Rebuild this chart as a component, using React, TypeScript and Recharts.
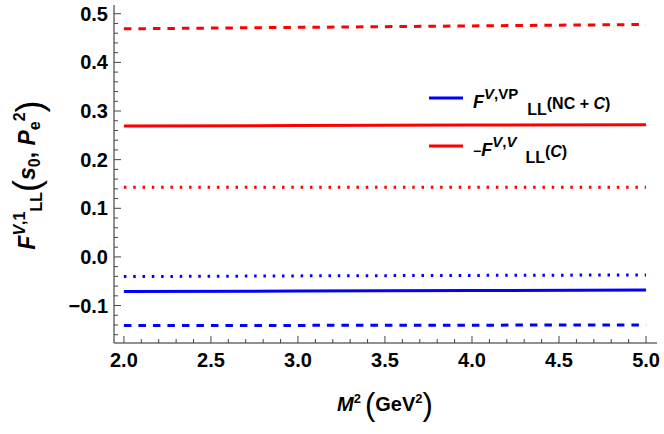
import { LineChart, Line, XAxis, YAxis } from "recharts";

// M^2 (GeV^2) sample points
const M2 = [2, 3, 4, 5];

// red curves (-F^{V,V}_LL(C))
const RED_DASHED = [0.469, 0.472, 0.475, 0.478];
const RED_SOLID = [0.269, 0.27, 0.271, 0.272];
const RED_DOTTED = [0.143, 0.143, 0.143, 0.143];

// blue curves (F^{V,VP}_LL(NC + C))
const BLUE_DOTTED = [-0.0405, -0.039, -0.038, -0.037];
const BLUE_SOLID = [-0.0713, -0.0703, -0.0693, -0.068];
const BLUE_DASHED = [-0.141, -0.1408, -0.1403, -0.14];

const X_MAJOR = [2, 2.5, 3, 3.5, 4, 4.5, 5];
const Y_MAJOR = [-0.1, 0, 0.1, 0.2, 0.3, 0.4, 0.5];

const X_TICKS = Array.from({ length: 31 }, (_, i) => Math.round((2 + i * 0.1) * 10) / 10);
const Y_TICKS = Array.from({ length: 34 }, (_, i) => Math.round((-0.16 + i * 0.02) * 100) / 100);

const RED = "#ff0000";
const BLUE = "#0000ff";
const FONT = "'Liberation Sans', Arial, sans-serif";

const SERIES = [
  { key: "redDashed", values: RED_DASHED, color: RED, dash: "7.5 7" },
  { key: "redSolid", values: RED_SOLID, color: RED, dash: undefined },
  { key: "redDotted", values: RED_DOTTED, color: RED, dash: "2.5 6.8" },
  { key: "blueDotted", values: BLUE_DOTTED, color: BLUE, dash: "2.5 6.8" },
  { key: "blueSolid", values: BLUE_SOLID, color: BLUE, dash: undefined },
  { key: "blueDashed", values: BLUE_DASHED, color: BLUE, dash: "7.5 7" },
];

const data = M2.map((m, i) => {
  const row: Record<string, number> = { m };
  SERIES.forEach((s) => (row[s.key] = s.values[i]));
  return row;
});

const isMajor = (list: number[], v: number) => list.some((m) => Math.abs(m - v) < 1e-6);

function XTick(props: any) {
  const { x, y, payload } = props;
  const major = isMajor(X_MAJOR, payload.value);
  return (
    <g>
      <line x1={x} x2={x} y1={y} y2={y - (major ? 7 : 4)} stroke="#444" />
      {major && (
        <text x={x} y={y + 24} textAnchor="middle" fontSize={20} fontWeight="bold" fontFamily={FONT} fill="#000">
          {payload.value.toFixed(1)}
        </text>
      )}
    </g>
  );
}

function YTick(props: any) {
  const { x, y, payload } = props;
  const major = isMajor(Y_MAJOR, payload.value);
  const label = payload.value.toFixed(1).replace("-", "\u2212");
  return (
    <g>
      <line x1={x} x2={x + (major ? 7 : 4)} y1={y} y2={y} stroke="#444" />
      {major && (
        <text x={x - 6} y={y + 7} textAnchor="end" fontSize={20} fontWeight="bold" fontFamily={FONT} fill="#000">
          {label}
        </text>
      )}
    </g>
  );
}

export default function App() {
  return (
    <div style={{ width: 664, height: 434 }}>
      <style>{"body{margin:0}"}</style>
      <LineChart width={664} height={434} data={data} margin={{ top: 5, right: 7, bottom: 0, left: 0 }}>
        <XAxis
          dataKey="m"
          type="number"
          domain={[1.943, 5.063]}
          ticks={X_TICKS}
          interval={0}
          height={91}
          tickSize={0}
          tickMargin={0}
          tickLine={false}
          axisLine={{ stroke: "#222" }}
          tick={<XTick />}
        />
        <YAxis
          type="number"
          domain={[-0.177, 0.518]}
          ticks={Y_TICKS}
          interval={0}
          width={114}
          tickSize={0}
          tickMargin={0}
          tickLine={false}
          axisLine={{ stroke: "#222" }}
          tick={<YTick />}
        />
        {SERIES.map((s) => (
          <Line
            key={s.key}
            dataKey={s.key}
            type="linear"
            stroke={s.color}
            strokeWidth={3}
            strokeDasharray={s.dash}
            dot={false}
            activeDot={false}
            isAnimationActive={false}
          />
        ))}

        {/* legend */}
        <line x1={429} x2={463} y1={98} y2={98} stroke={BLUE} strokeWidth={3} />
        <text x={473} y={108} fontFamily={FONT} fontWeight="bold" fontSize={16} fill="#000">
          <tspan fontStyle="italic" fontSize={18}>F</tspan>
          <tspan fontSize={15} dy={-9}><tspan fontStyle="italic">V</tspan>,VP</tspan>
          <tspan fontSize={16} dy={16} dx={9}>LL</tspan>
          <tspan fontSize={16} dy={-6}>(NC + <tspan fontStyle="italic">C</tspan>)</tspan>
        </text>
        <line x1={429} x2={463} y1={146} y2={146} stroke={RED} strokeWidth={3} />
        <text x={473} y={156} fontFamily={FONT} fontWeight="bold" fontSize={16} fill="#000">
          <tspan fontSize={14}>{"\u2212"}</tspan>
          <tspan fontStyle="italic" fontSize={18}>F</tspan>
          <tspan fontSize={15} dy={-9}><tspan fontStyle="italic">V</tspan>,<tspan fontStyle="italic">V</tspan></tspan>
          <tspan fontSize={16} dy={16} dx={9}>LL</tspan>
          <tspan fontSize={16} dy={-6}>(<tspan fontStyle="italic">C</tspan>)</tspan>
        </text>

        {/* x axis title */}
        <text x={385} y={411} textAnchor="middle" fontFamily={FONT} fontWeight="bold" fontSize={20} fill="#000">
          <tspan fontStyle="italic">M</tspan>
          <tspan fontSize={13} dy={-8}>2</tspan>
          <tspan fontSize={31} fontWeight="normal" dy={12} dx={4}>(</tspan>
          <tspan dy={-4}>GeV</tspan>
          <tspan fontSize={13} dy={-8}>2</tspan>
          <tspan fontSize={31} fontWeight="normal" dy={12}>)</tspan>
        </text>

        {/* y axis title */}
        <text
          x={35}
          y={175}
          transform="rotate(-90, 35, 175)"
          textAnchor="middle"
          fontFamily={FONT}
          fontWeight="bold"
          fontSize={23}
          fill="#000"
        >
          <tspan fontStyle="italic">F</tspan>
          <tspan fontSize={16} dy={-10}><tspan fontStyle="italic">V</tspan>,1</tspan>
          <tspan fontSize={16} dy={17}>LL</tspan>
          <tspan fontSize={36} fontWeight="normal" dy={-3}>(</tspan>
          <tspan fontStyle="italic" dy={-4}>s</tspan>
          <tspan fontSize={16} dy={5}>0</tspan>
          <tspan dy={-5}>, </tspan>
          <tspan fontStyle="italic">P</tspan>
          <tspan fontSize={16} dy={5}>e</tspan>
          <tspan fontSize={16} dy={-15}>2</tspan>
          <tspan fontSize={36} fontWeight="normal" dy={17}>)</tspan>
        </text>
      </LineChart>
    </div>
  );
}
